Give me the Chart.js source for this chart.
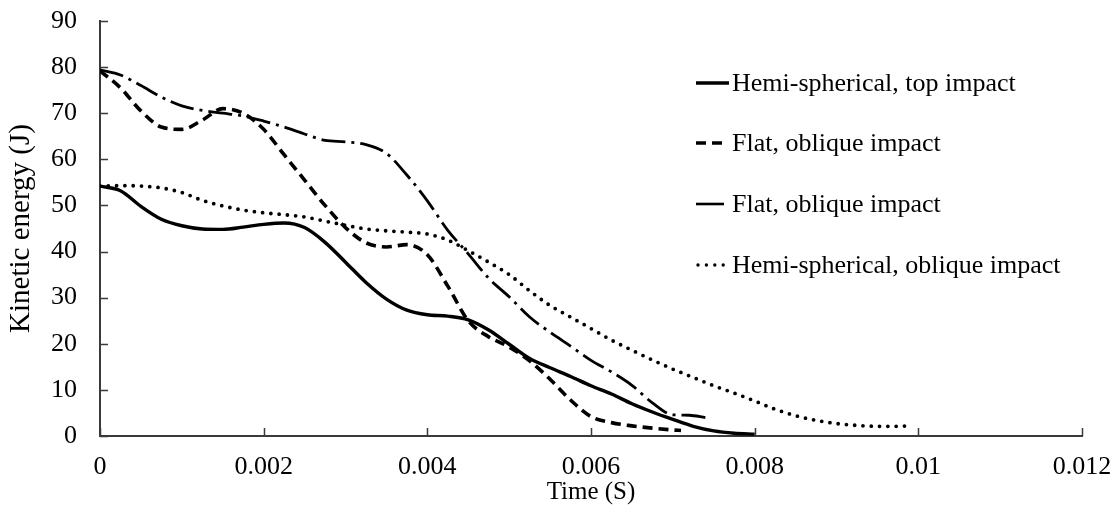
<!DOCTYPE html>
<html lang="en">
<head>
    <meta charset="UTF-8">
    <title>Kinetic energy vs time</title>
    <script src="https://cdn.jsdelivr.net/npm/chart.js"></script>
    <style>
        body { margin: 0; background: #fff; }
        .wrap { position: relative; width: 1120px; height: 512px; }
        #keChart { display: block; }
        .legend { position: absolute; left: 0; top: 0; font-family: "Liberation Serif", "Times New Roman", serif; font-size: 26px; color: #000; }
        .legend .row { position: absolute; left: 696px; height: 30px; display: flex; align-items: center; white-space: nowrap; }
        .legend svg { display: block; margin-right: 3px; }
    </style>
</head>
<body>
<div class="wrap">
    <canvas id="keChart" width="1120" height="512"></canvas>
    <div class="legend" id="legend"></div>
</div>
<script>
// data, time in ms, energy in J
const timeHemiTop = [0, 0.25, 0.5, 0.75, 1.0, 1.25, 1.5, 1.75, 2.0, 2.25, 2.5, 2.75, 3.0, 3.25, 3.5, 3.75, 4.0, 4.25, 4.5, 4.75, 5.0, 5.25, 5.5, 5.75, 6.0, 6.25, 6.5, 6.75, 7.0, 7.25, 7.5, 7.75, 8.0];
const keHemiTop   = [54.2, 53.2, 49.8, 47.0, 45.6, 44.9, 44.8, 45.3, 45.9, 46.2, 45.2, 42.0, 37.7, 33.3, 29.7, 27.3, 26.3, 26.0, 25.2, 23.0, 19.9, 16.8, 14.8, 12.9, 10.9, 9.1, 7.0, 5.2, 3.6, 2.1, 1.1, 0.6, 0.4];

const timeFlatDash = [0, 0.25, 0.5, 0.75, 1.0, 1.25, 1.5, 1.75, 2.0, 2.25, 2.5, 2.75, 3.0, 3.25, 3.5, 3.75, 4.0, 4.25, 4.5, 4.75, 5.0, 5.25, 5.5, 5.75, 6.0, 6.25, 6.5, 6.75, 7.0, 7.1];
const keFlatDash   = [79.2, 75.5, 70.5, 67.0, 66.5, 68.5, 71.0, 70.0, 66.5, 61.0, 55.5, 50.0, 45.2, 41.9, 41.0, 41.5, 39.3, 32.5, 25.0, 21.5, 19.3, 16.3, 12.3, 7.8, 4.2, 2.9, 2.2, 1.7, 1.3, 1.2];

const timeFlatDashDot = [0, 0.25, 0.5, 0.75, 1.0, 1.25, 1.5, 1.75, 2.0, 2.25, 2.5, 2.75, 3.0, 3.25, 3.5, 3.75, 4.0, 4.25, 4.5, 4.75, 5.0, 5.25, 5.5, 5.75, 6.0, 6.25, 6.5, 6.75, 7.0, 7.2, 7.4];
const keFlatDashDot   = [79.4, 78.3, 76.0, 73.5, 71.6, 70.6, 70.0, 69.4, 68.3, 67.0, 65.5, 64.1, 63.8, 63.2, 61.3, 56.6, 51.0, 44.6, 39.5, 34.2, 30.2, 25.8, 22.5, 19.5, 16.4, 13.9, 11.0, 7.2, 4.6, 4.5, 4.0];

const timeHemiOblique = [0, 0.25, 0.5, 0.75, 1.0, 1.25, 1.5, 1.75, 2.0, 2.25, 2.5, 2.75, 3.0, 3.25, 3.5, 3.75, 4.0, 4.25, 4.5, 4.75, 5.0, 5.25, 5.5, 5.75, 6.0, 6.25, 6.5, 6.75, 7.0, 7.25, 7.5, 7.75, 8.0, 8.25, 8.5, 8.75, 9.0, 9.25, 9.5, 9.75, 9.9];
const keHemiOblique   = [54.2, 54.3, 54.2, 53.8, 52.8, 51.1, 49.9, 49.0, 48.4, 48.0, 47.5, 46.6, 45.7, 44.9, 44.5, 44.2, 43.8, 42.5, 40.2, 37.7, 35.0, 31.5, 28.3, 25.8, 23.3, 20.8, 18.6, 16.5, 14.5, 12.7, 10.9, 9.3, 7.6, 5.8, 4.4, 3.4, 2.7, 2.3, 2.1, 2.1, 2.2];

const seriesNames = ['Hemi-spherical, top impact', 'Flat, oblique impact', 'Flat, oblique impact', 'Hemi-spherical, oblique impact'];
const xTickLabels = ['0', '0.002', '0.004', '0.006', '0.008', '0.01', '0.012'];
const yTickLabels = ['0', '10', '20', '30', '40', '50', '60', '70', '80', '90'];

const axisColor = '#3a3a3a';
const serif = '"Liberation Serif", "Times New Roman", serif';

function toPoints(times, values) {
    return times.map((t, i) => ({ x: t / 1000, y: values[i] }));
}

const styles = [
    { width: 3.4, dash: [], cap: 'butt' },
    { width: 3.6, dash: [10, 6], cap: 'butt' },
    { width: 2.8, dash: [24, 6, 3, 6], cap: 'butt' },
    { width: 3.8, dash: [0, 8.3], cap: 'round' }
];
const seriesData = [
    toPoints(timeHemiTop, keHemiTop),
    toPoints(timeFlatDash, keFlatDash),
    toPoints(timeFlatDashDot, keFlatDashDot),
    toPoints(timeHemiOblique, keHemiOblique)
];

// Excel style tick marks pointing into the plot
const innerTicks = {
    id: 'innerTicks',
    afterDraw(chart) {
        const ctx = chart.ctx;
        const { x, y } = chart.scales;
        const area = chart.chartArea;
        ctx.save();
        ctx.strokeStyle = axisColor;
        ctx.lineWidth = 1.5;
        ctx.beginPath();
        x.ticks.forEach(t => {
            const px = Math.round(x.getPixelForValue(t.value)) + 0.5;
            ctx.moveTo(px, area.bottom);
            ctx.lineTo(px, area.bottom - 8);
        });
        y.ticks.forEach(t => {
            const py = Math.round(y.getPixelForValue(t.value)) + 0.5;
            ctx.moveTo(area.left, py);
            ctx.lineTo(area.left + 8, py);
        });
        ctx.stroke();
        ctx.restore();
    }
};

new Chart(document.getElementById('keChart'), {
    type: 'line',
    data: {
        datasets: seriesNames.map((name, i) => ({
            label: name,
            data: seriesData[i],
            borderColor: '#000',
            borderWidth: styles[i].width,
            borderDash: styles[i].dash,
            borderCapStyle: styles[i].cap,
            pointRadius: 0,
            fill: false,
            cubicInterpolationMode: 'monotone'
        }))
    },
    options: {
        responsive: false,
        animation: false,
        layout: { padding: { top: 21, right: 38, left: 0, bottom: 0 } },
        plugins: { legend: { display: false }, tooltip: { enabled: false } },
        scales: {
            x: {
                type: 'linear',
                min: 0,
                max: 0.012,
                afterFit: s => { s.height = 76; s.paddingLeft = 0; s.paddingRight = 0; },
                ticks: {
                    stepSize: 0.002,
                    padding: 16,
                    color: '#000',
                    font: { family: serif, size: 26 },
                    maxRotation: 0,
                    callback: (v, i) => xTickLabels[i]
                },
                grid: { display: false, drawTicks: false },
                border: { display: true, color: axisColor, width: 2 },
                title: { display: true, text: 'Time (S)', color: '#000', font: { family: serif, size: 25 }, padding: { top: 0, bottom: 5 } }
            },
            y: {
                min: 0,
                max: 90,
                afterFit: s => { s.width = 100; s.paddingTop = 0; s.paddingBottom = 0; },
                ticks: {
                    stepSize: 10,
                    padding: 23,
                    color: '#000',
                    font: { family: serif, size: 26 },
                    callback: (v, i) => yTickLabels[i]
                },
                grid: { display: false, drawTicks: false },
                border: { display: true, color: axisColor, width: 2 },
                title: { display: true, text: 'Kinetic energy (J)', color: '#000', font: { family: serif, size: 29 }, padding: { top: 4, bottom: 0 } }
            }
        }
    },
    plugins: [innerTicks]
});

// legend drawn as html, placed inside the plot like the original
const legendRows = [83, 143, 204, 265];
const legendSym = [
    '<line x1="0" y1="5" x2="33" y2="5" stroke="#000" stroke-width="3.4"/>',
    '<line x1="0" y1="5" x2="29" y2="5" stroke="#000" stroke-width="3.6" stroke-dasharray="10 6"/>',
    '<line x1="0" y1="5" x2="28" y2="5" stroke="#000" stroke-width="2.6"/>',
    '<line x1="2" y1="5" x2="28" y2="5" stroke="#000" stroke-width="3.4" stroke-linecap="round" stroke-dasharray="0 8.4"/>'
];
const legendEl = document.getElementById('legend');
seriesNames.forEach((name, i) => {
    const row = document.createElement('div');
    row.className = 'row';
    row.style.top = (legendRows[i] - 15) + 'px';
    row.innerHTML = '<svg width="33" height="10">' + legendSym[i] + '</svg><span>' + name + '</span>';
    legendEl.appendChild(row);
});
</script>
</body>
</html>
